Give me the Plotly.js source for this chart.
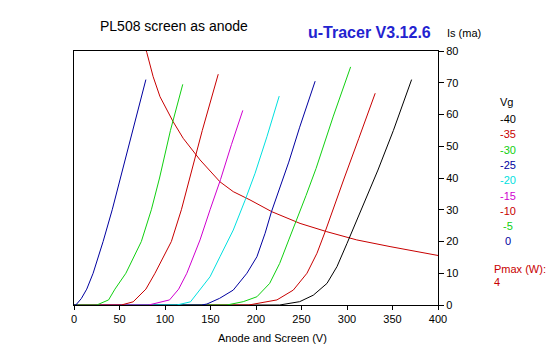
<!DOCTYPE html>
<html>
<head>
<meta charset="utf-8">
<script src="https://cdn.plot.ly/plotly-3.0.1.min.js"></script>
<style>
  html, body { margin: 0; padding: 0; background: #ffffff; }
  #chart { width: 547px; height: 357px; }
</style>
</head>
<body>
<div id="chart"></div>
<script>
// ---- Data (anode & screen voltage V, screen current mA) ----
var gridVoltages = ["-40", "-35", "-30", "-25", "-20", "-15", "-10", "-5", "0"];
var seriesColors = ["#000000", "#c80000", "#10d010", "#0000a0", "#00e0e0", "#d000d0", "#c80000", "#10d010", "#0000a0"];

var vgM40_V = [0, 226, 248, 263, 278, 289, 300, 311, 322, 334, 351, 371];
var vgM40_I = [0, 0, 1.05, 3.1, 6.8, 12.1, 19.4, 27, 34.5, 42.5, 55, 71];

var vgM35_V = [0, 192, 223, 241, 256, 267, 276, 285, 297, 313, 331];
var vgM35_I = [0, 0, 1.6, 4.7, 10, 16.3, 23.1, 30.5, 40, 52.5, 66.7];

var vgM30_V = [0, 168, 186, 201, 215, 226, 236, 245, 255, 266, 285, 304];
var vgM30_I = [0, 0, 1.05, 2.6, 6.8, 13.1, 20.5, 27, 34.5, 43, 59.5, 75];

var vgM25_V = [0, 140, 146, 160, 175, 190, 201, 210, 217, 226, 236, 248, 265];
var vgM25_I = [0, 0, 0.3, 2.1, 4.7, 10, 15.2, 22.6, 29.4, 36.5, 45, 56, 70.5];

var vgM20_V = [0, 113, 128, 138.5, 149.5, 160.4, 175, 188, 199, 212, 225.5];
var vgM20_I = [0, 0, 1, 4.7, 8.9, 15.2, 23.6, 33, 41.5, 53, 65.8];

var vgM15_V = [0, 82, 105, 115, 124, 138.5, 149.5, 161, 173, 185.5];
var vgM15_I = [0, 0, 1.6, 5, 10, 20.5, 30, 39.5, 50.5, 61.3];

var vgM10_V = [0, 52, 65, 79, 89, 107, 118, 127, 141, 158.5];
var vgM10_I = [0, 0, 1, 5, 10, 20, 30, 40, 55, 72.7];

var vgM5_V = [0, 25, 38, 45, 57, 74, 85, 94, 106, 119.5];
var vgM5_I = [0, 0, 1.6, 5, 10, 20, 30, 40, 55, 69.5];

var vg0_V = [0, 2, 8, 14, 21, 32, 42, 51, 65, 79];
var vg0_I = [0, 0, 2, 5, 10, 20, 30, 40, 55, 71];

var pmax_V = [77, 80, 87, 94.5, 109, 120, 138.5, 160.4, 175, 193.4, 217.3, 248.4, 277.7, 310.7, 347.3, 400];
var pmax_I = [82, 79.5, 71.9, 65.6, 57.7, 52.5, 45.7, 38.8, 35.7, 33.1, 29.4, 25.7, 23.1, 20.5, 18.4, 15.6];
var pmaxLabel = "Pmax (W):";
var pmaxValue = "4";

var xTicks = [0, 50, 100, 150, 200, 250, 300, 350, 400];
var yTicks = [0, 10, 20, 30, 40, 50, 60, 70, 80];

var curvesV = [vgM40_V, vgM35_V, vgM30_V, vgM25_V, vgM20_V, vgM15_V, vgM10_V, vgM5_V, vg0_V];
var curvesI = [vgM40_I, vgM35_I, vgM30_I, vgM25_I, vgM20_I, vgM15_I, vgM10_I, vgM5_I, vg0_I];

// ---- Layout geometry (pixels) ----
var W = 547, H = 357;
var L = 74, R = 438, T = 51, B = 305;
function px(x) { return (x - L) / (R - L); }
function py(y) { return (B - y) / (B - T); }

var traces = [];
traces.push({
  x: pmax_V, y: pmax_I, type: 'scatter', mode: 'lines',
  line: { color: '#c80000', width: 1 }, hoverinfo: 'skip', showlegend: false
});
for (var k = 0; k < curvesV.length; k++) {
  traces.push({
    x: curvesV[k], y: curvesI[k], type: 'scatter', mode: 'lines',
    line: { color: seriesColors[k], width: 1 }, name: gridVoltages[k],
    hoverinfo: 'skip', showlegend: false
  });
}

var baseFont = { family: 'Liberation Sans, Arial, sans-serif', size: 11, color: '#000000' };

var annotations = [
  { text: 'PL508 screen as anode', x: px(174), y: py(26), xref: 'paper', yref: 'paper',
    xanchor: 'center', yanchor: 'middle', showarrow: false,
    font: { family: 'Liberation Sans, Arial, sans-serif', size: 14, color: '#000000' } },
  { text: '<b>u-Tracer V3.12.6</b>', x: px(369), y: py(33), xref: 'paper', yref: 'paper',
    xanchor: 'center', yanchor: 'middle', showarrow: false,
    font: { family: 'Liberation Sans, Arial, sans-serif', size: 16, color: '#2323d0' } },
  { text: 'Is (ma)', x: px(445), y: py(33), xref: 'paper', yref: 'paper',
    xanchor: 'left', yanchor: 'middle', showarrow: false,
    font: { family: 'Liberation Sans, Arial, sans-serif', size: 11, color: '#000000' } },
  { text: 'Anode and Screen (V)', x: px(272), y: py(338), xref: 'paper', yref: 'paper',
    xanchor: 'center', yanchor: 'middle', showarrow: false, font: baseFont },
  { text: 'Vg', x: px(506), y: py(102), xref: 'paper', yref: 'paper',
    xanchor: 'center', yanchor: 'middle', showarrow: false, font: baseFont },
  { text: pmaxLabel, x: px(492), y: py(269), xref: 'paper', yref: 'paper',
    xanchor: 'left', yanchor: 'middle', showarrow: false,
    font: { family: baseFont.family, size: 11, color: '#c80000' } },
  { text: pmaxValue, x: px(492), y: py(282), xref: 'paper', yref: 'paper',
    xanchor: 'left', yanchor: 'middle', showarrow: false,
    font: { family: baseFont.family, size: 11, color: '#c80000' } }
];
for (var j = 0; j < gridVoltages.length; j++) {
  annotations.push({
    text: gridVoltages[j], x: px(508), y: py(119 + j * 15.3), xref: 'paper', yref: 'paper',
    xanchor: 'center', yanchor: 'middle', showarrow: false,
    font: { family: baseFont.family, size: 11, color: seriesColors[j] }
  });
}

var layout = {
  width: W, height: H,
  margin: { l: L, r: W - R, t: T, b: H - B, pad: 0 },
  paper_bgcolor: '#ffffff', plot_bgcolor: '#ffffff',
  showlegend: false,
  font: baseFont,
  xaxis: {
    range: [0, 400], tickvals: xTicks, ticktext: xTicks.map(String),
    showgrid: false, zeroline: false,
    showline: true, linecolor: '#000000', linewidth: 1, mirror: true,
    ticks: 'outside', ticklen: 4, tickcolor: '#000000', tickwidth: 1,
    tickfont: baseFont, fixedrange: true
  },
  yaxis: {
    range: [0, 80], side: 'right', tickvals: yTicks, ticktext: yTicks.map(String),
    showgrid: false, zeroline: false,
    showline: true, linecolor: '#000000', linewidth: 1, mirror: true,
    ticks: 'outside', ticklen: 5, tickcolor: '#000000', tickwidth: 1,
    tickfont: baseFont, fixedrange: true
  },
  annotations: annotations
};

Plotly.newPlot('chart', traces, layout, { staticPlot: true, displayModeBar: false });
</script>
</body>
</html>
